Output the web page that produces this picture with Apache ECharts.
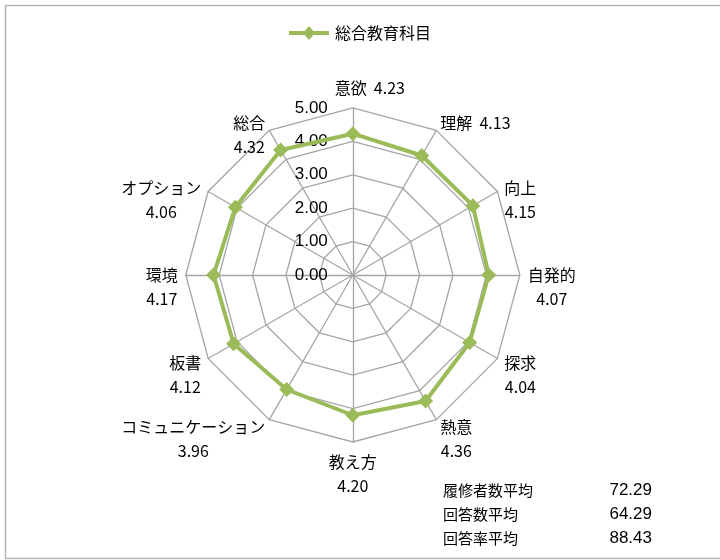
<!DOCTYPE html>
<html>
<head>
<meta charset="utf-8">
<script src="https://cdn.jsdelivr.net/npm/echarts@6/dist/echarts.min.js"></script>
<style>
html,body{margin:0;padding:0;background:#fff;}
#c{width:720px;height:560px;}
</style>
</head>
<body>
<div id="c"></div>
<script>
const seriesName = '総合教育科目';
// clockwise from the top
const categories = ['意欲','理解','向上','自発的','探求','熱意','教え方','コミュニケーション','板書','環境','オプション','総合'];
const values = [4.23,4.13,4.15,4.07,4.04,4.36,4.20,3.96,4.12,4.17,4.06,4.32];
const singleLine = [true,true,false,false,false,false,false,false,false,false,false,false];
const statLabels = ['履修者数平均','回答数平均','回答率平均'];
const statValues = ['72.29','64.29','88.43'];
const axisMax = 5;

const CJK = '"Noto Sans CJK JP", "Noto Sans", sans-serif';
const NUM = '"Liberation Sans", "Noto Sans", sans-serif';
const green = '#9BBB59';

// ECharts radar runs counter-clockwise: keep first, reverse the rest
const order = [0].concat(categories.map((_, i) => i).slice(1).reverse());
const bottomIndex = 6;

const indicators = order.map((i, k) => {
  const ind = { name: categories[i], max: axisMax, min: 0 };
  if (k === 0) {
    ind.axisLabel = {
      show: true,
      margin: 25,
      formatter: v => v.toFixed(2),
      color: '#000',
      fontSize: 17,
      fontFamily: NUM
    };
  }
  return ind;
});
const orderedValues = order.map(i => values[i]);

const chart = echarts.init(document.getElementById('c'), null, { renderer: 'canvas' });
chart.setOption({
  animation: false,
  legend: {
    top: 20,
    left: 'center',
    data: [{ name: seriesName, icon: 'path://M0,5 L15.7,5 L20,0 L24.3,5 L40,5 L40,9 L24.3,9 L20,14 L15.7,9 L0,9 Z' }],
    itemWidth: 42,
    itemHeight: 14,
    textStyle: { fontFamily: CJK, fontSize: 16, color: '#000' }
  },
  radar: {
    center: ['49%', '49.1%'],
    radius: 167,
    startAngle: 90,
    splitNumber: 5,
    shape: 'polygon',
    nameGap: 8,
    axisName: {
      color: '#000',
      fontFamily: CJK,
      fontSize: 16,
      lineHeight: 24,
      formatter: function (name) {
        const i = categories.indexOf(name);
        const v = values[i].toFixed(2);
        if (i === 0) return '{t|' + name + '  ' + v + '}';
        if (singleLine[i]) return '{a|' + name + '  ' + v + '}';
        if (i === bottomIndex) return '{a|' + name + '}\n{a|' + v + '}';
        return '{e| }\n{a|' + name + '}\n{a|' + v + '}';
      },
      rich: {
        a: { align: 'center', fontFamily: CJK, fontSize: 16, lineHeight: 24, color: '#000' },
        t: { align: 'center', fontFamily: CJK, fontSize: 16, lineHeight: 24, color: '#000', padding: [0, 0, 0, 34] },
        e: { fontSize: 10, lineHeight: 24 }
      }
    },
    axisLine: { lineStyle: { color: '#A6A6A6', width: 1.3 } },
    splitLine: { lineStyle: { color: '#A6A6A6', width: 1.3 } },
    splitArea: { show: false },
    axisTick: { show: false },
    axisLabel: { show: false },
    indicator: indicators
  },
  graphic: [
    { type: 'rect', shape: { x: 5.5, y: 5.5, width: 730, height: 553 }, style: { fill: 'none', stroke: '#B4B4B4', lineWidth: 1.5 }, silent: true }
  ].concat(statLabels.map((t, i) => ({
    type: 'text', left: 443, top: 483 + i * 24,
    style: { text: t, fontFamily: CJK, fontSize: 15, fill: '#000' }
  }))).concat(statValues.map((t, i) => ({
    type: 'text', right: 68, top: 482 + i * 24,
    style: { text: t, fontFamily: NUM, fontSize: 17, fill: '#000', align: 'right' }
  }))),
  series: [{
    name: seriesName,
    type: 'radar',
    symbol: 'diamond',
    symbolSize: 15,
    lineStyle: { color: green, width: 4 },
    itemStyle: { color: green },
    data: [{ name: seriesName, value: orderedValues }]
  }]
});
</script>
</body>
</html>
